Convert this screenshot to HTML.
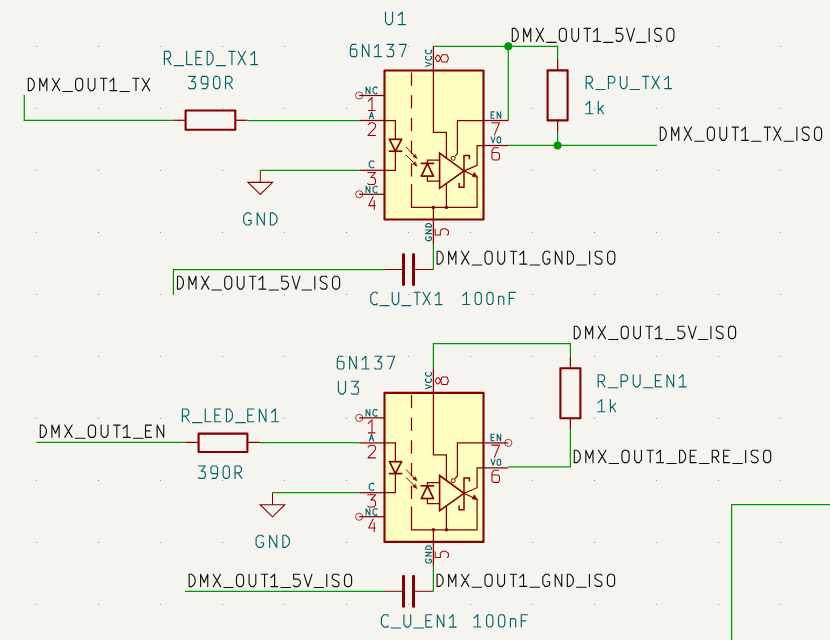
<!DOCTYPE html>
<html><head><meta charset="utf-8"><style>
html,body{margin:0;padding:0;background:#F5F4EF;overflow:hidden;}
svg{display:block;}
</style></head><body>
<svg width="830" height="640" viewBox="0 0 830 640">
<rect x="0" y="0" width="830" height="640" fill="#F5F4EF"/>
<rect x="36" y="46" width="1" height="1" fill="#999999"/><rect x="36" y="108" width="1" height="1" fill="#999999"/><rect x="36" y="170" width="1" height="1" fill="#999999"/><rect x="36" y="232" width="1" height="1" fill="#999999"/><rect x="36" y="294" width="1" height="1" fill="#999999"/><rect x="36" y="356" width="1" height="1" fill="#999999"/><rect x="36" y="418" width="1" height="1" fill="#999999"/><rect x="36" y="480" width="1" height="1" fill="#999999"/><rect x="36" y="542" width="1" height="1" fill="#999999"/><rect x="36" y="604" width="1" height="1" fill="#999999"/><rect x="98" y="46" width="1" height="1" fill="#999999"/><rect x="98" y="108" width="1" height="1" fill="#999999"/><rect x="98" y="170" width="1" height="1" fill="#999999"/><rect x="98" y="232" width="1" height="1" fill="#999999"/><rect x="98" y="294" width="1" height="1" fill="#999999"/><rect x="98" y="356" width="1" height="1" fill="#999999"/><rect x="98" y="418" width="1" height="1" fill="#999999"/><rect x="98" y="480" width="1" height="1" fill="#999999"/><rect x="98" y="542" width="1" height="1" fill="#999999"/><rect x="98" y="604" width="1" height="1" fill="#999999"/><rect x="160" y="46" width="1" height="1" fill="#999999"/><rect x="160" y="108" width="1" height="1" fill="#999999"/><rect x="160" y="170" width="1" height="1" fill="#999999"/><rect x="160" y="232" width="1" height="1" fill="#999999"/><rect x="160" y="294" width="1" height="1" fill="#999999"/><rect x="160" y="356" width="1" height="1" fill="#999999"/><rect x="160" y="418" width="1" height="1" fill="#999999"/><rect x="160" y="480" width="1" height="1" fill="#999999"/><rect x="160" y="542" width="1" height="1" fill="#999999"/><rect x="160" y="604" width="1" height="1" fill="#999999"/><rect x="222" y="46" width="1" height="1" fill="#999999"/><rect x="222" y="108" width="1" height="1" fill="#999999"/><rect x="222" y="170" width="1" height="1" fill="#999999"/><rect x="222" y="232" width="1" height="1" fill="#999999"/><rect x="222" y="294" width="1" height="1" fill="#999999"/><rect x="222" y="356" width="1" height="1" fill="#999999"/><rect x="222" y="418" width="1" height="1" fill="#999999"/><rect x="222" y="480" width="1" height="1" fill="#999999"/><rect x="222" y="542" width="1" height="1" fill="#999999"/><rect x="222" y="604" width="1" height="1" fill="#999999"/><rect x="284" y="46" width="1" height="1" fill="#999999"/><rect x="284" y="108" width="1" height="1" fill="#999999"/><rect x="284" y="170" width="1" height="1" fill="#999999"/><rect x="284" y="232" width="1" height="1" fill="#999999"/><rect x="284" y="294" width="1" height="1" fill="#999999"/><rect x="284" y="356" width="1" height="1" fill="#999999"/><rect x="284" y="418" width="1" height="1" fill="#999999"/><rect x="284" y="480" width="1" height="1" fill="#999999"/><rect x="284" y="542" width="1" height="1" fill="#999999"/><rect x="284" y="604" width="1" height="1" fill="#999999"/><rect x="346" y="46" width="1" height="1" fill="#999999"/><rect x="346" y="108" width="1" height="1" fill="#999999"/><rect x="346" y="170" width="1" height="1" fill="#999999"/><rect x="346" y="232" width="1" height="1" fill="#999999"/><rect x="346" y="294" width="1" height="1" fill="#999999"/><rect x="346" y="356" width="1" height="1" fill="#999999"/><rect x="346" y="418" width="1" height="1" fill="#999999"/><rect x="346" y="480" width="1" height="1" fill="#999999"/><rect x="346" y="542" width="1" height="1" fill="#999999"/><rect x="346" y="604" width="1" height="1" fill="#999999"/><rect x="408" y="46" width="1" height="1" fill="#999999"/><rect x="408" y="108" width="1" height="1" fill="#999999"/><rect x="408" y="170" width="1" height="1" fill="#999999"/><rect x="408" y="232" width="1" height="1" fill="#999999"/><rect x="408" y="294" width="1" height="1" fill="#999999"/><rect x="408" y="356" width="1" height="1" fill="#999999"/><rect x="408" y="418" width="1" height="1" fill="#999999"/><rect x="408" y="480" width="1" height="1" fill="#999999"/><rect x="408" y="542" width="1" height="1" fill="#999999"/><rect x="408" y="604" width="1" height="1" fill="#999999"/><rect x="470" y="46" width="1" height="1" fill="#999999"/><rect x="470" y="108" width="1" height="1" fill="#999999"/><rect x="470" y="170" width="1" height="1" fill="#999999"/><rect x="470" y="232" width="1" height="1" fill="#999999"/><rect x="470" y="294" width="1" height="1" fill="#999999"/><rect x="470" y="356" width="1" height="1" fill="#999999"/><rect x="470" y="418" width="1" height="1" fill="#999999"/><rect x="470" y="480" width="1" height="1" fill="#999999"/><rect x="470" y="542" width="1" height="1" fill="#999999"/><rect x="470" y="604" width="1" height="1" fill="#999999"/><rect x="532" y="46" width="1" height="1" fill="#999999"/><rect x="532" y="108" width="1" height="1" fill="#999999"/><rect x="532" y="170" width="1" height="1" fill="#999999"/><rect x="532" y="232" width="1" height="1" fill="#999999"/><rect x="532" y="294" width="1" height="1" fill="#999999"/><rect x="532" y="356" width="1" height="1" fill="#999999"/><rect x="532" y="418" width="1" height="1" fill="#999999"/><rect x="532" y="480" width="1" height="1" fill="#999999"/><rect x="532" y="542" width="1" height="1" fill="#999999"/><rect x="532" y="604" width="1" height="1" fill="#999999"/><rect x="594" y="46" width="1" height="1" fill="#999999"/><rect x="594" y="108" width="1" height="1" fill="#999999"/><rect x="594" y="170" width="1" height="1" fill="#999999"/><rect x="594" y="232" width="1" height="1" fill="#999999"/><rect x="594" y="294" width="1" height="1" fill="#999999"/><rect x="594" y="356" width="1" height="1" fill="#999999"/><rect x="594" y="418" width="1" height="1" fill="#999999"/><rect x="594" y="480" width="1" height="1" fill="#999999"/><rect x="594" y="542" width="1" height="1" fill="#999999"/><rect x="594" y="604" width="1" height="1" fill="#999999"/><rect x="656" y="46" width="1" height="1" fill="#999999"/><rect x="656" y="108" width="1" height="1" fill="#999999"/><rect x="656" y="170" width="1" height="1" fill="#999999"/><rect x="656" y="232" width="1" height="1" fill="#999999"/><rect x="656" y="294" width="1" height="1" fill="#999999"/><rect x="656" y="356" width="1" height="1" fill="#999999"/><rect x="656" y="418" width="1" height="1" fill="#999999"/><rect x="656" y="480" width="1" height="1" fill="#999999"/><rect x="656" y="542" width="1" height="1" fill="#999999"/><rect x="656" y="604" width="1" height="1" fill="#999999"/><rect x="718" y="46" width="1" height="1" fill="#999999"/><rect x="718" y="108" width="1" height="1" fill="#999999"/><rect x="718" y="170" width="1" height="1" fill="#999999"/><rect x="718" y="232" width="1" height="1" fill="#999999"/><rect x="718" y="294" width="1" height="1" fill="#999999"/><rect x="718" y="356" width="1" height="1" fill="#999999"/><rect x="718" y="418" width="1" height="1" fill="#999999"/><rect x="718" y="480" width="1" height="1" fill="#999999"/><rect x="718" y="542" width="1" height="1" fill="#999999"/><rect x="718" y="604" width="1" height="1" fill="#999999"/><rect x="780" y="46" width="1" height="1" fill="#999999"/><rect x="780" y="108" width="1" height="1" fill="#999999"/><rect x="780" y="170" width="1" height="1" fill="#999999"/><rect x="780" y="232" width="1" height="1" fill="#999999"/><rect x="780" y="294" width="1" height="1" fill="#999999"/><rect x="780" y="356" width="1" height="1" fill="#999999"/><rect x="780" y="418" width="1" height="1" fill="#999999"/><rect x="780" y="480" width="1" height="1" fill="#999999"/><rect x="780" y="542" width="1" height="1" fill="#999999"/><rect x="780" y="604" width="1" height="1" fill="#999999"/>
<path d="M24.3 95 L24.3 120.3 L173.4 120.3" fill="none" stroke="#009600" stroke-width="1.25" stroke-linecap="butt" stroke-linejoin="miter"/>
<path d="M247.5 120.5 L359.2 120.5" fill="none" stroke="#009600" stroke-width="1.25" stroke-linecap="butt" stroke-linejoin="miter"/>
<path d="M260.3 170.4 L359.2 170.4" fill="none" stroke="#009600" stroke-width="1.25" stroke-linecap="butt" stroke-linejoin="miter"/>
<path d="M433.4 46.3 L557.6 46.3 L557.6 59" fill="none" stroke="#009600" stroke-width="1.25" stroke-linecap="butt" stroke-linejoin="miter"/>
<path d="M508.3 46.3 L508.3 120.5" fill="none" stroke="#009600" stroke-width="1.25" stroke-linecap="butt" stroke-linejoin="miter"/>
<path d="M557.6 131.8 L557.6 145.4" fill="none" stroke="#009600" stroke-width="1.25" stroke-linecap="butt" stroke-linejoin="miter"/>
<path d="M508.3 145.4 L657 145.4" fill="none" stroke="#009600" stroke-width="1.25" stroke-linecap="butt" stroke-linejoin="miter"/>
<path d="M173.4 294.7 L173.4 269.5 L385 269.5" fill="none" stroke="#009600" stroke-width="1.25" stroke-linecap="butt" stroke-linejoin="miter"/>
<path d="M433.4 269.5 L433.4 244" fill="none" stroke="#009600" stroke-width="1.25" stroke-linecap="butt" stroke-linejoin="miter"/>
<path d="M36.3 442.3 L186 442.3" fill="none" stroke="#009600" stroke-width="1.25" stroke-linecap="butt" stroke-linejoin="miter"/>
<path d="M260 442.5 L359.2 442.5" fill="none" stroke="#009600" stroke-width="1.25" stroke-linecap="butt" stroke-linejoin="miter"/>
<path d="M272.5 492.7 L359.2 492.7" fill="none" stroke="#009600" stroke-width="1.25" stroke-linecap="butt" stroke-linejoin="miter"/>
<path d="M433.4 368.7 L433.4 343.5 L570.4 343.5 L570.4 356.9" fill="none" stroke="#009600" stroke-width="1.25" stroke-linecap="butt" stroke-linejoin="miter"/>
<path d="M570.4 429.8 L570.4 466.9 L508.3 466.9" fill="none" stroke="#009600" stroke-width="1.25" stroke-linecap="butt" stroke-linejoin="miter"/>
<path d="M185 591.3 L385 591.3" fill="none" stroke="#009600" stroke-width="1.25" stroke-linecap="butt" stroke-linejoin="miter"/>
<path d="M433.4 591.3 L433.4 566.4" fill="none" stroke="#009600" stroke-width="1.25" stroke-linecap="butt" stroke-linejoin="miter"/>
<path d="M731.6 640 L731.6 504.5 L830 504.5" fill="none" stroke="#009600" stroke-width="1.25" stroke-linecap="butt" stroke-linejoin="miter"/>
<path d="M173.45 120.3 L185.6 120.3" fill="none" stroke="#840000" stroke-width="1.25" stroke-linecap="butt" stroke-linejoin="round"/>
<path d="M235.3 120.3 L247.45 120.3" fill="none" stroke="#840000" stroke-width="1.25" stroke-linecap="butt" stroke-linejoin="round"/>
<rect x="185.6" y="110.5" width="49.7" height="19.3" fill="none" stroke="#840000" stroke-width="2.1" stroke-linejoin="round"/>
<path d="M557.6 59 L557.6 70.4" fill="none" stroke="#840000" stroke-width="1.25" stroke-linecap="butt" stroke-linejoin="round"/>
<path d="M557.6 120.4 L557.6 131.8" fill="none" stroke="#840000" stroke-width="1.25" stroke-linecap="butt" stroke-linejoin="round"/>
<rect x="547.6" y="70.4" width="20" height="50" fill="none" stroke="#840000" stroke-width="2.1" stroke-linejoin="round"/>
<path d="M260.3 170.4 L260.3 182.4" fill="none" stroke="#840000" stroke-width="1" stroke-linecap="butt" stroke-linejoin="round"/>
<path d="M248 182.4 L272.6 182.4 L260.3 194.5Z" fill="none" stroke="#840000" stroke-width="1.1" stroke-linecap="round" stroke-linejoin="miter"/>
<path d="M385 269.5 L403 269.5" fill="none" stroke="#840000" stroke-width="1" stroke-linecap="butt" stroke-linejoin="round"/>
<path d="M414 269.5 L433.4 269.5" fill="none" stroke="#840000" stroke-width="1" stroke-linecap="butt" stroke-linejoin="round"/>
<path d="M403.5 254.5 L403.5 284.5" fill="none" stroke="#840000" stroke-width="3" stroke-linecap="round" stroke-linejoin="round"/>
<path d="M413.5 254.5 L413.5 284.5" fill="none" stroke="#840000" stroke-width="3" stroke-linecap="round" stroke-linejoin="round"/>
<rect x="384.5" y="70.5" width="99" height="149" fill="#FFFFC2" stroke="#840000" stroke-width="2.1" stroke-linejoin="round"/>
<path d="M359.2 95.5 L384.7 95.5" fill="none" stroke="#840000" stroke-width="1.25" stroke-linecap="butt" stroke-linejoin="round"/>
<path d="M359.2 120.5 L384.7 120.5" fill="none" stroke="#840000" stroke-width="1.25" stroke-linecap="butt" stroke-linejoin="round"/>
<path d="M359.2 170.3 L384.7 170.3" fill="none" stroke="#840000" stroke-width="1.25" stroke-linecap="butt" stroke-linejoin="round"/>
<path d="M359.2 194.3 L384.7 194.3" fill="none" stroke="#840000" stroke-width="1.25" stroke-linecap="butt" stroke-linejoin="round"/>
<circle cx="359.2" cy="95.5" r="3.6" fill="none" stroke="#840000" stroke-width="1" opacity="0.75"/>
<circle cx="359.2" cy="194.3" r="3.6" fill="none" stroke="#840000" stroke-width="1" opacity="0.75"/>
<path d="M483.5 120.5 L508.3 120.5" fill="none" stroke="#840000" stroke-width="1.25" stroke-linecap="butt" stroke-linejoin="round"/>
<path d="M483.5 145.5 L508.3 145.5" fill="none" stroke="#840000" stroke-width="1.25" stroke-linecap="butt" stroke-linejoin="round"/>
<path d="M433.4 46.3 L433.4 70.6" fill="none" stroke="#840000" stroke-width="1.25" stroke-linecap="butt" stroke-linejoin="round"/>
<path d="M433.4 219.4 L433.4 244" fill="none" stroke="#840000" stroke-width="1.25" stroke-linecap="butt" stroke-linejoin="round"/>
<path d="M384.7 120.5 L395.4 120.5 L395.4 139.3" fill="none" stroke="#840000" stroke-width="1.25" stroke-linecap="butt" stroke-linejoin="miter"/>
<path d="M395.4 151.2 L395.4 170.3 L384.7 170.3" fill="none" stroke="#840000" stroke-width="1.25" stroke-linecap="butt" stroke-linejoin="miter"/>
<path d="M388.7 139.3 L402.3 139.3" fill="none" stroke="#840000" stroke-width="1.7" stroke-linecap="butt" stroke-linejoin="round"/>
<path d="M388.7 151.2 L402.3 151.2" fill="none" stroke="#840000" stroke-width="1.7" stroke-linecap="butt" stroke-linejoin="round"/>
<path d="M389.5 139.3 L395.4 151.2 L401.5 139.3" fill="none" stroke="#840000" stroke-width="1.7" stroke-linecap="butt" stroke-linejoin="miter"/>
<path d="M406 147 L415.3 156.8" fill="none" stroke="#840000" stroke-width="1" stroke-linecap="butt" stroke-linejoin="round"/>
<path d="M416.8 158.4 L412.89 156.6 L415.21 154.4Z" fill="#840000" stroke="#840000" stroke-width="0.6" stroke-linecap="round" stroke-linejoin="round"/>
<path d="M406 155 L415.3 164.4" fill="none" stroke="#840000" stroke-width="1" stroke-linecap="butt" stroke-linejoin="round"/>
<path d="M416.8 166 L412.86 164.27 L415.14 162.02Z" fill="#840000" stroke="#840000" stroke-width="0.6" stroke-linecap="round" stroke-linejoin="round"/>
<path d="M411.5 72.5 L411.5 85.8" fill="none" stroke="#840000" stroke-width="1.25" stroke-linecap="butt" stroke-linejoin="round"/>
<path d="M411.5 95.2 L411.5 108.5" fill="none" stroke="#840000" stroke-width="1.25" stroke-linecap="butt" stroke-linejoin="round"/>
<path d="M411.5 117.9 L411.5 131.2" fill="none" stroke="#840000" stroke-width="1.25" stroke-linecap="butt" stroke-linejoin="round"/>
<path d="M411.5 140.6 L411.5 153.9" fill="none" stroke="#840000" stroke-width="1.25" stroke-linecap="butt" stroke-linejoin="round"/>
<path d="M411.5 163.3 L411.5 176.6" fill="none" stroke="#840000" stroke-width="1.25" stroke-linecap="butt" stroke-linejoin="round"/>
<path d="M411.5 184.1 L411.5 207.4 L477.3 207.4" fill="none" stroke="#840000" stroke-width="1.25" stroke-linecap="butt" stroke-linejoin="miter"/>
<circle cx="433.4" cy="207.4" r="1.7" fill="#840000"/>
<circle cx="446.5" cy="207.4" r="1.7" fill="#840000"/>
<path d="M420.6 163.4 L434.2 163.4" fill="none" stroke="#840000" stroke-width="1.7" stroke-linecap="butt" stroke-linejoin="round"/>
<path d="M420.6 176.1 L434.2 176.1" fill="none" stroke="#840000" stroke-width="1.7" stroke-linecap="butt" stroke-linejoin="round"/>
<path d="M421.4 176.1 L427.4 163.4 L433.4 176.1" fill="none" stroke="#840000" stroke-width="1.7" stroke-linecap="butt" stroke-linejoin="miter"/>
<path d="M427.4 163.4 L427.4 160.1 L439.6 160.1" fill="none" stroke="#840000" stroke-width="1.25" stroke-linecap="butt" stroke-linejoin="miter"/>
<path d="M427.4 176.1 L427.4 181.2 L439.6 181.2" fill="none" stroke="#840000" stroke-width="1.25" stroke-linecap="butt" stroke-linejoin="miter"/>
<path d="M433.4 70.6 L433.4 132.4 L446.4 132.4 L446.4 158.2" fill="none" stroke="#840000" stroke-width="1.25" stroke-linecap="butt" stroke-linejoin="miter"/>
<path d="M446.4 183.5 L446.4 207.4" fill="none" stroke="#840000" stroke-width="1.25" stroke-linecap="butt" stroke-linejoin="round"/>
<path d="M433.4 207.4 L433.4 219.5" fill="none" stroke="#840000" stroke-width="1.25" stroke-linecap="butt" stroke-linejoin="round"/>
<path d="M439.6 153.1 L464 170.9 L439.6 188.3Z" fill="none" stroke="#840000" stroke-width="1.6" stroke-linecap="round" stroke-linejoin="miter"/>
<circle cx="453.2" cy="158.3" r="2" fill="none" stroke="#840000" stroke-width="1"/>
<path d="M483.5 120.5 L457.4 120.5 L457.4 153.6 L455 156.4" fill="none" stroke="#840000" stroke-width="1.25" stroke-linecap="butt" stroke-linejoin="miter"/>
<path d="M459.1 183.1 L459.1 187.3 L464 187.3 L464 155.5 L469.4 155.5 L469.4 159.2" fill="none" stroke="#840000" stroke-width="1.5" stroke-linecap="butt" stroke-linejoin="miter"/>
<path d="M464 170.9 L477.1 165.3 L477.1 145.5 L483.5 145.5" fill="none" stroke="#840000" stroke-width="1.25" stroke-linecap="butt" stroke-linejoin="miter"/>
<path d="M464 170.9 L474.5 175.8" fill="none" stroke="#840000" stroke-width="1.25" stroke-linecap="butt" stroke-linejoin="round"/>
<path d="M477.1 177 L477.1 207.4" fill="none" stroke="#840000" stroke-width="1.25" stroke-linecap="butt" stroke-linejoin="round"/>
<path d="M477.6 177.3 L472.3 176.6 L474.2 172.6Z" fill="#840000" stroke="#840000" stroke-width="0.6" stroke-linecap="round" stroke-linejoin="round"/>
<path transform="translate(366.1 87.1)" d="M0 6.6 0 0 3.75 6.6 3.75 0 M10.7 0.79 10.7 0 8.51 0 6.95 1.57 6.95 5.03 8.51 6.6 10.7 6.6 10.7 5.81" fill="none" stroke="#006464" stroke-width="1.1" stroke-linecap="round" stroke-linejoin="round"/>
<path transform="translate(369.3 112)" d="M0 6.6 2.2 0 4.4 6.6 M0.74 4.4 3.66 4.4" fill="none" stroke="#006464" stroke-width="1.1" stroke-linecap="round" stroke-linejoin="round"/>
<path transform="translate(369.3 161)" d="M4.4 0.81 4.4 0 1.83 0 0 1.62 0 5.18 1.83 6.8 4.4 6.8 4.4 5.99" fill="none" stroke="#006464" stroke-width="1.1" stroke-linecap="round" stroke-linejoin="round"/>
<path transform="translate(366.1 186.3)" d="M0 6.4 0 0 3.75 6.4 3.75 0 M10.7 0.76 10.7 0 8.51 0 6.95 1.52 6.95 4.88 8.51 6.4 10.7 6.4 10.7 5.64" fill="none" stroke="#006464" stroke-width="1.1" stroke-linecap="round" stroke-linejoin="round"/>
<path transform="translate(491.1 111.9)" d="M3.18 0 0 0 0 6.4 3.18 6.4 M0 3.05 2.31 3.05 M6.13 6.4 6.13 0 9.6 6.4 9.6 0" fill="none" stroke="#006464" stroke-width="1.1" stroke-linecap="round" stroke-linejoin="round"/>
<path transform="translate(491.1 136.9)" d="M0 0 1.94 6 3.88 0 M7.14 0 8.53 0 9.39 0.74 9.6 1.57 9.6 4.43 9.39 5.23 8.53 6 7.14 6 6.29 5.23 6.07 4.43 6.07 1.57 6.29 0.74 7.14 0" fill="none" stroke="#006464" stroke-width="1.1" stroke-linecap="round" stroke-linejoin="round"/>
<path transform="translate(425.55 66.4) rotate(-90)" d="M0 0 2.05 5.9 4.1 0 M9.82 0.7 9.82 0 7.84 0 6.42 1.4 6.42 4.5 7.84 5.9 9.82 5.9 9.82 5.2 M16.1 0.7 16.1 0 14.12 0 12.71 1.4 12.71 4.5 14.12 5.9 16.1 5.9 16.1 5.2" fill="none" stroke="#006464" stroke-width="1.1" stroke-linecap="round" stroke-linejoin="round"/>
<path transform="translate(425.65 240.6) rotate(-90)" d="M3.76 0.69 3.06 0 1.38 0 0 1.38 0 4.42 1.22 5.8 2.75 5.8 3.82 4.97 3.82 3.59 2.45 3.59 M6.95 5.8 6.95 0 10.61 5.8 10.61 0 M13.74 0 15.2 0 16.37 0.88 16.98 1.74 17.1 2.35 17.1 3.45 16.98 4.06 16.37 4.92 15.2 5.8 13.74 5.8 13.74 0" fill="none" stroke="#006464" stroke-width="1.1" stroke-linecap="round" stroke-linejoin="round"/>
<path transform="translate(368.35 97.5)" d="M0 3.58 3.66 0 3.66 12.95 M0 12.95 6.7 12.95" fill="none" stroke="#A90000" stroke-width="1.05" stroke-linecap="round" stroke-linejoin="round"/>
<path transform="translate(367.95 122.8)" d="M0.19 1.93 1.46 0.48 3.04 0 4.94 0 6.65 0.6 7.6 2.11 7.6 3.92 6.84 5.42 0 12.65 7.6 12.65" fill="none" stroke="#A90000" stroke-width="1.05" stroke-linecap="round" stroke-linejoin="round"/>
<path transform="translate(367.75 172.4)" d="M0 0 7.8 0 3.12 5.09 5.87 5.09 7.8 6.94 7.8 10.18 6.43 12.15 0.94 12.15 0 11.28" fill="none" stroke="#A90000" stroke-width="1.05" stroke-linecap="round" stroke-linejoin="round"/>
<path transform="translate(368.75 196.5)" d="M4.43 0 0 9.11 6.4 9.11 M5.49 3.95 5.49 12.75" fill="none" stroke="#A90000" stroke-width="1.05" stroke-linecap="round" stroke-linejoin="round"/>
<path transform="translate(491.75 122.7)" d="M0 0 7.7 0 2.67 12.15" fill="none" stroke="#A90000" stroke-width="1.05" stroke-linecap="round" stroke-linejoin="round"/>
<path transform="translate(491.95 147.8)" d="M6.44 0 2 0 0 2.78 0 10.59 1.5 12.15 6.25 12.15 7.5 10.59 7.5 6.25 6.06 4.74 0 4.74" fill="none" stroke="#A90000" stroke-width="1.05" stroke-linecap="round" stroke-linejoin="round"/>
<path transform="translate(435.2 62.05) rotate(-90)" d="M3.7 5.36 7.4 6.94 7.4 11.8 3.7 13.25 0 11.8 0 6.94 3.7 5.36 6.78 3.53 6.78 1.89 3.7 0 0.62 1.89 0.62 3.53 3.7 5.36" fill="none" stroke="#A90000" stroke-width="1.05" stroke-linecap="round" stroke-linejoin="round"/>
<path transform="translate(435.2 235.05) rotate(-90)" d="M5.7 0 0 0 0 5.17 4.33 5.17 6.3 7.38 6.3 10.28 4.13 13.25 0.86 13.25 0 11.99" fill="none" stroke="#A90000" stroke-width="1.05" stroke-linecap="round" stroke-linejoin="round"/>
<circle cx="508.3" cy="46.3" r="4" fill="#009600"/>
<circle cx="557.6" cy="145.4" r="4" fill="#009600"/>
<path d="M186 442.4 L198.6 442.4" fill="none" stroke="#840000" stroke-width="1.25" stroke-linecap="butt" stroke-linejoin="round"/>
<path d="M247.4 442.4 L260 442.4" fill="none" stroke="#840000" stroke-width="1.25" stroke-linecap="butt" stroke-linejoin="round"/>
<rect x="198.6" y="433.6" width="48.8" height="18.4" fill="none" stroke="#840000" stroke-width="2.1" stroke-linejoin="round"/>
<path d="M570.4 356.9 L570.4 368.3" fill="none" stroke="#840000" stroke-width="1.25" stroke-linecap="butt" stroke-linejoin="round"/>
<path d="M570.4 418.3 L570.4 429.7" fill="none" stroke="#840000" stroke-width="1.25" stroke-linecap="butt" stroke-linejoin="round"/>
<rect x="560.4" y="368.3" width="20" height="50" fill="none" stroke="#840000" stroke-width="2.1" stroke-linejoin="round"/>
<path d="M272.5 492.7 L272.5 504.7" fill="none" stroke="#840000" stroke-width="1" stroke-linecap="butt" stroke-linejoin="round"/>
<path d="M260.2 504.7 L284.8 504.7 L272.5 516.8Z" fill="none" stroke="#840000" stroke-width="1.1" stroke-linecap="round" stroke-linejoin="miter"/>
<path d="M385 591.3 L403 591.3" fill="none" stroke="#840000" stroke-width="1" stroke-linecap="butt" stroke-linejoin="round"/>
<path d="M414 591.3 L433.4 591.3" fill="none" stroke="#840000" stroke-width="1" stroke-linecap="butt" stroke-linejoin="round"/>
<path d="M403.5 576.3 L403.5 606.3" fill="none" stroke="#840000" stroke-width="3" stroke-linecap="round" stroke-linejoin="round"/>
<path d="M413.5 576.3 L413.5 606.3" fill="none" stroke="#840000" stroke-width="3" stroke-linecap="round" stroke-linejoin="round"/>
<rect x="384.5" y="392.9" width="99" height="149" fill="#FFFFC2" stroke="#840000" stroke-width="2.1" stroke-linejoin="round"/>
<path d="M359.2 417.9 L384.7 417.9" fill="none" stroke="#840000" stroke-width="1.25" stroke-linecap="butt" stroke-linejoin="round"/>
<path d="M359.2 442.9 L384.7 442.9" fill="none" stroke="#840000" stroke-width="1.25" stroke-linecap="butt" stroke-linejoin="round"/>
<path d="M359.2 492.7 L384.7 492.7" fill="none" stroke="#840000" stroke-width="1.25" stroke-linecap="butt" stroke-linejoin="round"/>
<path d="M359.2 516.7 L384.7 516.7" fill="none" stroke="#840000" stroke-width="1.25" stroke-linecap="butt" stroke-linejoin="round"/>
<circle cx="359.2" cy="417.9" r="3.6" fill="none" stroke="#840000" stroke-width="1" opacity="0.75"/>
<circle cx="359.2" cy="516.7" r="3.6" fill="none" stroke="#840000" stroke-width="1" opacity="0.75"/>
<path d="M483.5 442.9 L508.3 442.9" fill="none" stroke="#840000" stroke-width="1.25" stroke-linecap="butt" stroke-linejoin="round"/>
<path d="M483.5 467.9 L508.3 467.9" fill="none" stroke="#840000" stroke-width="1.25" stroke-linecap="butt" stroke-linejoin="round"/>
<circle cx="508.3" cy="442.9" r="3.6" fill="none" stroke="#840000" stroke-width="1" opacity="0.75"/>
<path d="M433.4 368.7 L433.4 393" fill="none" stroke="#840000" stroke-width="1.25" stroke-linecap="butt" stroke-linejoin="round"/>
<path d="M433.4 541.8 L433.4 566.4" fill="none" stroke="#840000" stroke-width="1.25" stroke-linecap="butt" stroke-linejoin="round"/>
<path d="M384.7 442.9 L395.4 442.9 L395.4 461.7" fill="none" stroke="#840000" stroke-width="1.25" stroke-linecap="butt" stroke-linejoin="miter"/>
<path d="M395.4 473.6 L395.4 492.7 L384.7 492.7" fill="none" stroke="#840000" stroke-width="1.25" stroke-linecap="butt" stroke-linejoin="miter"/>
<path d="M388.7 461.7 L402.3 461.7" fill="none" stroke="#840000" stroke-width="1.7" stroke-linecap="butt" stroke-linejoin="round"/>
<path d="M388.7 473.6 L402.3 473.6" fill="none" stroke="#840000" stroke-width="1.7" stroke-linecap="butt" stroke-linejoin="round"/>
<path d="M389.5 461.7 L395.4 473.6 L401.5 461.7" fill="none" stroke="#840000" stroke-width="1.7" stroke-linecap="butt" stroke-linejoin="miter"/>
<path d="M406 469.4 L415.3 479.2" fill="none" stroke="#840000" stroke-width="1" stroke-linecap="butt" stroke-linejoin="round"/>
<path d="M416.8 480.8 L412.89 479 L415.21 476.8Z" fill="#840000" stroke="#840000" stroke-width="0.6" stroke-linecap="round" stroke-linejoin="round"/>
<path d="M406 477.4 L415.3 486.8" fill="none" stroke="#840000" stroke-width="1" stroke-linecap="butt" stroke-linejoin="round"/>
<path d="M416.8 488.4 L412.86 486.67 L415.14 484.42Z" fill="#840000" stroke="#840000" stroke-width="0.6" stroke-linecap="round" stroke-linejoin="round"/>
<path d="M411.5 394.9 L411.5 408.2" fill="none" stroke="#840000" stroke-width="1.25" stroke-linecap="butt" stroke-linejoin="round"/>
<path d="M411.5 417.6 L411.5 430.9" fill="none" stroke="#840000" stroke-width="1.25" stroke-linecap="butt" stroke-linejoin="round"/>
<path d="M411.5 440.3 L411.5 453.6" fill="none" stroke="#840000" stroke-width="1.25" stroke-linecap="butt" stroke-linejoin="round"/>
<path d="M411.5 463 L411.5 476.3" fill="none" stroke="#840000" stroke-width="1.25" stroke-linecap="butt" stroke-linejoin="round"/>
<path d="M411.5 485.7 L411.5 499" fill="none" stroke="#840000" stroke-width="1.25" stroke-linecap="butt" stroke-linejoin="round"/>
<path d="M411.5 506.5 L411.5 529.8 L477.3 529.8" fill="none" stroke="#840000" stroke-width="1.25" stroke-linecap="butt" stroke-linejoin="miter"/>
<circle cx="433.4" cy="529.8" r="1.7" fill="#840000"/>
<circle cx="446.5" cy="529.8" r="1.7" fill="#840000"/>
<path d="M420.6 485.8 L434.2 485.8" fill="none" stroke="#840000" stroke-width="1.7" stroke-linecap="butt" stroke-linejoin="round"/>
<path d="M420.6 498.5 L434.2 498.5" fill="none" stroke="#840000" stroke-width="1.7" stroke-linecap="butt" stroke-linejoin="round"/>
<path d="M421.4 498.5 L427.4 485.8 L433.4 498.5" fill="none" stroke="#840000" stroke-width="1.7" stroke-linecap="butt" stroke-linejoin="miter"/>
<path d="M427.4 485.8 L427.4 482.5 L439.6 482.5" fill="none" stroke="#840000" stroke-width="1.25" stroke-linecap="butt" stroke-linejoin="miter"/>
<path d="M427.4 498.5 L427.4 503.6 L439.6 503.6" fill="none" stroke="#840000" stroke-width="1.25" stroke-linecap="butt" stroke-linejoin="miter"/>
<path d="M433.4 393 L433.4 454.8 L446.4 454.8 L446.4 480.6" fill="none" stroke="#840000" stroke-width="1.25" stroke-linecap="butt" stroke-linejoin="miter"/>
<path d="M446.4 505.9 L446.4 529.8" fill="none" stroke="#840000" stroke-width="1.25" stroke-linecap="butt" stroke-linejoin="round"/>
<path d="M433.4 529.8 L433.4 541.9" fill="none" stroke="#840000" stroke-width="1.25" stroke-linecap="butt" stroke-linejoin="round"/>
<path d="M439.6 475.5 L464 493.3 L439.6 510.7Z" fill="none" stroke="#840000" stroke-width="1.6" stroke-linecap="round" stroke-linejoin="miter"/>
<circle cx="453.2" cy="480.7" r="2" fill="none" stroke="#840000" stroke-width="1"/>
<path d="M483.5 442.9 L457.4 442.9 L457.4 476 L455 478.8" fill="none" stroke="#840000" stroke-width="1.25" stroke-linecap="butt" stroke-linejoin="miter"/>
<path d="M459.1 505.5 L459.1 509.7 L464 509.7 L464 477.9 L469.4 477.9 L469.4 481.6" fill="none" stroke="#840000" stroke-width="1.5" stroke-linecap="butt" stroke-linejoin="miter"/>
<path d="M464 493.3 L477.1 487.7 L477.1 467.9 L483.5 467.9" fill="none" stroke="#840000" stroke-width="1.25" stroke-linecap="butt" stroke-linejoin="miter"/>
<path d="M464 493.3 L474.5 498.2" fill="none" stroke="#840000" stroke-width="1.25" stroke-linecap="butt" stroke-linejoin="round"/>
<path d="M477.1 499.4 L477.1 529.8" fill="none" stroke="#840000" stroke-width="1.25" stroke-linecap="butt" stroke-linejoin="round"/>
<path d="M477.6 499.7 L472.3 499 L474.2 495Z" fill="#840000" stroke="#840000" stroke-width="0.6" stroke-linecap="round" stroke-linejoin="round"/>
<path transform="translate(366.1 409.5)" d="M0 6.6 0 0 3.75 6.6 3.75 0 M10.7 0.79 10.7 0 8.51 0 6.95 1.57 6.95 5.03 8.51 6.6 10.7 6.6 10.7 5.81" fill="none" stroke="#006464" stroke-width="1.1" stroke-linecap="round" stroke-linejoin="round"/>
<path transform="translate(369.3 434.4)" d="M0 6.6 2.2 0 4.4 6.6 M0.74 4.4 3.66 4.4" fill="none" stroke="#006464" stroke-width="1.1" stroke-linecap="round" stroke-linejoin="round"/>
<path transform="translate(369.3 483.4)" d="M4.4 0.81 4.4 0 1.83 0 0 1.62 0 5.18 1.83 6.8 4.4 6.8 4.4 5.99" fill="none" stroke="#006464" stroke-width="1.1" stroke-linecap="round" stroke-linejoin="round"/>
<path transform="translate(366.1 508.7)" d="M0 6.4 0 0 3.75 6.4 3.75 0 M10.7 0.76 10.7 0 8.51 0 6.95 1.52 6.95 4.88 8.51 6.4 10.7 6.4 10.7 5.64" fill="none" stroke="#006464" stroke-width="1.1" stroke-linecap="round" stroke-linejoin="round"/>
<path transform="translate(491.1 434.3)" d="M3.18 0 0 0 0 6.4 3.18 6.4 M0 3.05 2.31 3.05 M6.13 6.4 6.13 0 9.6 6.4 9.6 0" fill="none" stroke="#006464" stroke-width="1.1" stroke-linecap="round" stroke-linejoin="round"/>
<path transform="translate(491.1 459.3)" d="M0 0 1.94 6 3.88 0 M7.14 0 8.53 0 9.39 0.74 9.6 1.57 9.6 4.43 9.39 5.23 8.53 6 7.14 6 6.29 5.23 6.07 4.43 6.07 1.57 6.29 0.74 7.14 0" fill="none" stroke="#006464" stroke-width="1.1" stroke-linecap="round" stroke-linejoin="round"/>
<path transform="translate(425.55 388.8) rotate(-90)" d="M0 0 2.05 5.9 4.1 0 M9.82 0.7 9.82 0 7.84 0 6.42 1.4 6.42 4.5 7.84 5.9 9.82 5.9 9.82 5.2 M16.1 0.7 16.1 0 14.12 0 12.71 1.4 12.71 4.5 14.12 5.9 16.1 5.9 16.1 5.2" fill="none" stroke="#006464" stroke-width="1.1" stroke-linecap="round" stroke-linejoin="round"/>
<path transform="translate(425.65 563) rotate(-90)" d="M3.76 0.69 3.06 0 1.38 0 0 1.38 0 4.42 1.22 5.8 2.75 5.8 3.82 4.97 3.82 3.59 2.45 3.59 M6.95 5.8 6.95 0 10.61 5.8 10.61 0 M13.74 0 15.2 0 16.37 0.88 16.98 1.74 17.1 2.35 17.1 3.45 16.98 4.06 16.37 4.92 15.2 5.8 13.74 5.8 13.74 0" fill="none" stroke="#006464" stroke-width="1.1" stroke-linecap="round" stroke-linejoin="round"/>
<path transform="translate(368.35 419.9)" d="M0 3.58 3.66 0 3.66 12.95 M0 12.95 6.7 12.95" fill="none" stroke="#A90000" stroke-width="1.05" stroke-linecap="round" stroke-linejoin="round"/>
<path transform="translate(367.95 445.2)" d="M0.19 1.93 1.46 0.48 3.04 0 4.94 0 6.65 0.6 7.6 2.11 7.6 3.92 6.84 5.42 0 12.65 7.6 12.65" fill="none" stroke="#A90000" stroke-width="1.05" stroke-linecap="round" stroke-linejoin="round"/>
<path transform="translate(367.75 494.8)" d="M0 0 7.8 0 3.12 5.09 5.87 5.09 7.8 6.94 7.8 10.18 6.43 12.15 0.94 12.15 0 11.28" fill="none" stroke="#A90000" stroke-width="1.05" stroke-linecap="round" stroke-linejoin="round"/>
<path transform="translate(368.75 518.9)" d="M4.43 0 0 9.11 6.4 9.11 M5.49 3.95 5.49 12.75" fill="none" stroke="#A90000" stroke-width="1.05" stroke-linecap="round" stroke-linejoin="round"/>
<path transform="translate(491.75 445.1)" d="M0 0 7.7 0 2.67 12.15" fill="none" stroke="#A90000" stroke-width="1.05" stroke-linecap="round" stroke-linejoin="round"/>
<path transform="translate(491.95 470.2)" d="M6.44 0 2 0 0 2.78 0 10.59 1.5 12.15 6.25 12.15 7.5 10.59 7.5 6.25 6.06 4.74 0 4.74" fill="none" stroke="#A90000" stroke-width="1.05" stroke-linecap="round" stroke-linejoin="round"/>
<path transform="translate(435.2 384.45) rotate(-90)" d="M3.7 5.36 7.4 6.94 7.4 11.8 3.7 13.25 0 11.8 0 6.94 3.7 5.36 6.78 3.53 6.78 1.89 3.7 0 0.62 1.89 0.62 3.53 3.7 5.36" fill="none" stroke="#A90000" stroke-width="1.05" stroke-linecap="round" stroke-linejoin="round"/>
<path transform="translate(435.2 557.45) rotate(-90)" d="M5.7 0 0 0 0 5.17 4.33 5.17 6.3 7.38 6.3 10.28 4.13 13.25 0.86 13.25 0 11.99" fill="none" stroke="#A90000" stroke-width="1.05" stroke-linecap="round" stroke-linejoin="round"/>
<path transform="translate(28.3 78.24)" d="M0 0 2.59 0 4.63 1.88 5.71 3.71 5.92 5 5.92 7.36 5.71 8.65 4.63 10.48 2.59 12.36 0 12.36 0 0 M11.43 12.36 11.43 0 14.98 8.24 18.54 0 18.54 12.36 M24.04 0 31.37 12.36 M31.37 0 24.04 12.36 M34.6 13.24 44.05 13.24 M49.44 0 52.24 0 53.96 1.53 54.39 3.24 54.39 9.12 53.96 10.77 52.24 12.36 49.44 12.36 47.72 10.77 47.28 9.12 47.28 3.24 47.72 1.53 49.44 0 M59.9 0 59.9 9.59 62.05 12.36 64.48 12.36 66.63 9.59 66.63 0 M72.14 0 78.6 0 M75.37 0 75.37 12.36 M81.65 3.41 85.42 0 85.42 12.36 M81.65 12.36 88.54 12.36 M91.78 13.24 101.23 13.24 M104.46 0 110.92 0 M107.69 0 107.69 12.36 M113.98 0 121.3 12.36 M121.3 0 113.98 12.36" fill="none" stroke="#0F0F0F" stroke-width="1.15" stroke-linecap="round" stroke-linejoin="round"/>
<path transform="translate(512.3 28.3)" d="M0 0 2.57 0 4.61 2 5.68 3.93 5.89 5.3 5.89 7.8 5.68 9.17 4.61 11.1 2.57 13.1 0 13.1 0 0 M11.37 13.1 11.37 0 14.9 8.73 18.44 0 18.44 13.1 M23.92 0 31.2 13.1 M31.2 0 23.92 13.1 M34.42 14.04 43.82 14.04 M49.18 0 51.96 0 53.68 1.62 54.1 3.43 54.1 9.67 53.68 11.42 51.96 13.1 49.18 13.1 47.46 11.42 47.03 9.67 47.03 3.43 47.46 1.62 49.18 0 M59.58 0 59.58 10.17 61.72 13.1 64.13 13.1 66.28 10.17 66.28 0 M71.75 0 78.18 0 M74.97 0 74.97 13.1 M81.22 3.62 84.97 0 84.97 13.1 M81.22 13.1 88.07 13.1 M91.29 14.04 100.69 14.04 M109.96 0 103.91 0 103.91 5.12 108.51 5.12 110.6 7.3 110.6 10.17 108.3 13.1 104.82 13.1 103.91 11.85 M114.35 0 118.24 13.1 122.12 0 M124.26 14.04 133.67 14.04 M136.88 0 136.88 13.1 M149.05 1.12 148.14 0 143.86 0 142.36 1.75 142.36 4.12 143.64 5.61 147.77 7.74 149.05 9.23 149.05 11.23 147.77 13.1 143.86 13.1 142.36 11.6 M156.67 0 159.46 0 161.17 1.62 161.6 3.43 161.6 9.67 161.17 11.42 159.46 13.1 156.67 13.1 154.96 11.42 154.53 9.67 154.53 3.43 154.96 1.62 156.67 0" fill="none" stroke="#0F0F0F" stroke-width="1.15" stroke-linecap="round" stroke-linejoin="round"/>
<path transform="translate(660.3 127.06)" d="M0 0 2.57 0 4.61 2.02 5.68 3.97 5.9 5.36 5.9 7.88 5.68 9.27 4.61 11.22 2.57 13.24 0 13.24 0 0 M11.38 13.24 11.38 0 14.91 8.83 18.45 0 18.45 13.24 M23.93 0 31.22 13.24 M31.22 0 23.93 13.24 M34.43 14.19 43.84 14.19 M49.2 0 51.99 0 53.71 1.64 54.14 3.47 54.14 9.77 53.71 11.54 51.99 13.24 49.2 13.24 47.49 11.54 47.06 9.77 47.06 3.47 47.49 1.64 49.2 0 M59.62 0 59.62 10.28 61.76 13.24 64.17 13.24 66.32 10.28 66.32 0 M71.79 0 78.23 0 M75.01 0 75.01 13.24 M81.26 3.66 85.02 0 85.02 13.24 M81.26 13.24 88.12 13.24 M91.34 14.19 100.75 14.19 M103.97 0 110.4 0 M107.18 0 107.18 13.24 M113.44 0 120.72 13.24 M120.72 0 113.44 13.24 M123.94 14.19 133.35 14.19 M136.57 0 136.57 13.24 M148.75 1.13 147.83 0 143.55 0 142.05 1.77 142.05 4.16 143.33 5.67 147.46 7.82 148.75 9.33 148.75 11.35 147.46 13.24 143.55 13.24 142.05 11.73 M156.37 0 159.16 0 160.87 1.64 161.3 3.47 161.3 9.77 160.87 11.54 159.16 13.24 156.37 13.24 154.65 11.54 154.22 9.77 154.22 3.47 154.65 1.64 156.37 0" fill="none" stroke="#0F0F0F" stroke-width="1.15" stroke-linecap="round" stroke-linejoin="round"/>
<path transform="translate(177.5 276.2)" d="M0 0 2.58 0 4.62 1.97 5.7 3.87 5.91 5.22 5.91 7.68 5.7 9.03 4.62 10.93 2.58 12.9 0 12.9 0 0 M11.4 12.9 11.4 0 14.95 8.6 18.5 0 18.5 12.9 M23.99 0 31.3 12.9 M31.3 0 23.99 12.9 M34.52 13.82 43.96 13.82 M49.33 0 52.12 0 53.84 1.6 54.27 3.38 54.27 9.52 53.84 11.24 52.12 12.9 49.33 12.9 47.61 11.24 47.18 9.52 47.18 3.38 47.61 1.6 49.33 0 M59.77 0 59.77 10.01 61.91 12.9 64.33 12.9 66.48 10.01 66.48 0 M71.97 0 78.42 0 M75.2 0 75.2 12.9 M81.47 3.56 85.23 0 85.23 12.9 M81.47 12.9 88.35 12.9 M91.57 13.82 101 13.82 M110.3 0 104.23 0 104.23 5.04 108.85 5.04 110.94 7.19 110.94 10.01 108.63 12.9 105.14 12.9 104.23 11.67 M114.71 0 118.6 12.9 122.5 0 M124.65 13.82 134.08 13.82 M137.3 0 137.3 12.9 M149.51 1.11 148.6 0 144.3 0 142.8 1.72 142.8 4.05 144.09 5.53 148.22 7.62 149.51 9.09 149.51 11.06 148.22 12.9 144.3 12.9 142.8 11.43 M157.16 0 159.95 0 161.67 1.6 162.1 3.38 162.1 9.52 161.67 11.24 159.95 12.9 157.16 12.9 155.44 11.24 155.01 9.52 155.01 3.38 155.44 1.6 157.16 0" fill="none" stroke="#0F0F0F" stroke-width="1.15" stroke-linecap="round" stroke-linejoin="round"/>
<path transform="translate(437.1 251.2)" d="M0 0 2.62 0 4.69 1.97 5.78 3.87 6 5.22 6 7.68 5.78 9.03 4.69 10.93 2.62 12.9 0 12.9 0 0 M11.58 12.9 11.58 0 15.18 8.6 18.79 0 18.79 12.9 M24.36 0 31.79 12.9 M31.79 0 24.36 12.9 M35.06 13.82 44.64 13.82 M50.1 0 52.94 0 54.68 1.6 55.12 3.38 55.12 9.52 54.68 11.24 52.94 12.9 50.1 12.9 48.35 11.24 47.92 9.52 47.92 3.38 48.35 1.6 50.1 0 M60.7 0 60.7 10.01 62.88 12.9 65.34 12.9 67.52 10.01 67.52 0 M73.1 0 79.65 0 M76.37 0 76.37 12.9 M82.74 3.56 86.56 0 86.56 12.9 M82.74 12.9 89.73 12.9 M93 13.82 102.58 13.82 M112.57 1.54 111.31 0 108.31 0 105.86 3.07 105.86 9.83 108.04 12.9 110.77 12.9 112.68 11.06 112.68 7.99 110.22 7.99 M118.26 12.9 118.26 0 124.81 12.9 124.81 0 M130.38 0 133 0 135.08 1.97 136.17 3.87 136.39 5.22 136.39 7.68 136.17 9.03 135.08 10.93 133 12.9 130.38 12.9 130.38 0 M139.66 13.82 149.24 13.82 M152.52 0 152.52 12.9 M164.92 1.11 163.99 0 159.62 0 158.1 1.72 158.1 4.05 159.41 5.53 163.61 7.62 164.92 9.09 164.92 11.06 163.61 12.9 159.62 12.9 158.1 11.43 M172.68 0 175.52 0 177.26 1.6 177.7 3.38 177.7 9.52 177.26 11.24 175.52 12.9 172.68 12.9 170.93 11.24 170.5 9.52 170.5 3.38 170.93 1.6 172.68 0" fill="none" stroke="#0F0F0F" stroke-width="1.15" stroke-linecap="round" stroke-linejoin="round"/>
<path transform="translate(40.3 425.06)" d="M0 0 2.63 0 4.7 1.87 5.8 3.69 6.02 4.97 6.02 7.32 5.8 8.6 4.7 10.42 2.63 12.29 0 12.29 0 0 M11.61 12.29 11.61 0 15.22 8.19 18.83 0 18.83 12.29 M24.42 0 31.85 12.29 M31.85 0 24.42 12.29 M35.14 13.17 44.74 13.17 M50.21 0 53.05 0 54.8 1.52 55.24 3.22 55.24 9.07 54.8 10.71 53.05 12.29 50.21 12.29 48.46 10.71 48.02 9.07 48.02 3.22 48.46 1.52 50.21 0 M60.83 0 60.83 9.54 63.02 12.29 65.48 12.29 67.66 9.54 67.66 0 M73.25 0 79.82 0 M76.54 0 76.54 12.29 M82.92 3.39 86.75 0 86.75 12.29 M82.92 12.29 89.92 12.29 M93.2 13.17 102.8 13.17 M111.25 0 105.23 0 105.23 12.29 111.25 12.29 M105.23 5.85 109.61 5.85 M116.84 12.29 116.84 0 123.4 12.29 123.4 0" fill="none" stroke="#0F0F0F" stroke-width="1.15" stroke-linecap="round" stroke-linejoin="round"/>
<path transform="translate(574.3 326.2)" d="M0 0 2.57 0 4.6 1.89 5.67 3.72 5.88 5.02 5.88 7.38 5.67 8.68 4.6 10.51 2.57 12.4 0 12.4 0 0 M11.35 12.4 11.35 0 14.88 8.27 18.41 0 18.41 12.4 M23.87 0 31.14 12.4 M31.14 0 23.87 12.4 M34.35 13.29 43.74 13.29 M49.09 0 51.87 0 53.58 1.54 54 3.25 54 9.15 53.58 10.81 51.87 12.4 49.09 12.4 47.37 10.81 46.95 9.15 46.95 3.25 47.37 1.54 49.09 0 M59.47 0 59.47 9.62 61.61 12.4 64.02 12.4 66.15 9.62 66.15 0 M71.62 0 78.04 0 M74.83 0 74.83 12.4 M81.07 3.42 84.81 0 84.81 12.4 M81.07 12.4 87.91 12.4 M91.12 13.29 100.51 13.29 M109.76 0 103.71 0 103.71 4.84 108.31 4.84 110.4 6.91 110.4 9.62 108.1 12.4 104.62 12.4 103.71 11.22 M114.14 0 118.02 12.4 121.89 0 M124.03 13.29 133.42 13.29 M136.63 0 136.63 12.4 M148.78 1.06 147.87 0 143.59 0 142.09 1.65 142.09 3.9 143.38 5.31 147.49 7.32 148.78 8.74 148.78 10.63 147.49 12.4 143.59 12.4 142.09 10.98 M156.38 0 159.16 0 160.87 1.54 161.3 3.25 161.3 9.15 160.87 10.81 159.16 12.4 156.38 12.4 154.67 10.81 154.24 9.15 154.24 3.25 154.67 1.54 156.38 0" fill="none" stroke="#0F0F0F" stroke-width="1.15" stroke-linecap="round" stroke-linejoin="round"/>
<path transform="translate(574.3 450.2)" d="M0 0 2.61 0 4.67 1.89 5.75 3.72 5.97 5.02 5.97 7.38 5.75 8.68 4.67 10.51 2.61 12.4 0 12.4 0 0 M11.52 12.4 11.52 0 15.1 8.27 18.68 0 18.68 12.4 M24.23 0 31.61 12.4 M31.61 0 24.23 12.4 M34.87 13.29 44.4 13.29 M49.83 0 52.65 0 54.38 1.54 54.82 3.25 54.82 9.15 54.38 10.81 52.65 12.4 49.83 12.4 48.09 10.81 47.65 9.15 47.65 3.25 48.09 1.54 49.83 0 M60.37 0 60.37 9.62 62.54 12.4 64.98 12.4 67.15 9.62 67.15 0 M72.7 0 79.21 0 M75.96 0 75.96 12.4 M82.29 3.42 86.09 0 86.09 12.4 M82.29 12.4 89.24 12.4 M92.49 13.29 102.02 13.29 M105.28 0 107.88 0 109.94 1.89 111.03 3.72 111.25 5.02 111.25 7.38 111.03 8.68 109.94 10.51 107.88 12.4 105.28 12.4 105.28 0 M121.92 0 115.95 0 115.95 12.4 121.92 12.4 M115.95 5.9 120.29 5.9 M125.18 13.29 134.71 13.29 M137.96 12.4 137.96 0 142.14 0 143.66 1.06 144.42 2.83 144.2 4.9 143.01 6.38 141.76 6.91 137.96 6.91 M140.84 6.91 144.64 12.4 M155.31 0 149.34 0 149.34 12.4 155.31 12.4 M149.34 5.9 153.68 5.9 M158.57 13.29 168.1 13.29 M171.35 0 171.35 12.4 M183.69 1.06 182.76 0 178.42 0 176.9 1.65 176.9 3.9 178.21 5.31 182.38 7.32 183.69 8.74 183.69 10.63 182.38 12.4 178.42 12.4 176.9 10.98 M191.41 0 194.23 0 195.97 1.54 196.4 3.25 196.4 9.15 195.97 10.81 194.23 12.4 191.41 12.4 189.67 10.81 189.24 9.15 189.24 3.25 189.67 1.54 191.41 0" fill="none" stroke="#0F0F0F" stroke-width="1.15" stroke-linecap="round" stroke-linejoin="round"/>
<path transform="translate(189.2 574.3)" d="M0 0 2.58 0 4.63 1.87 5.71 3.69 5.92 4.98 5.92 7.32 5.71 8.61 4.63 10.43 2.58 12.3 0 12.3 0 0 M11.42 12.3 11.42 0 14.98 8.2 18.53 0 18.53 12.3 M24.03 0 31.36 12.3 M31.36 0 24.03 12.3 M34.59 13.18 44.04 13.18 M49.42 0 52.22 0 53.94 1.52 54.37 3.22 54.37 9.08 53.94 10.72 52.22 12.3 49.42 12.3 47.7 10.72 47.27 9.08 47.27 3.22 47.7 1.52 49.42 0 M59.88 0 59.88 9.55 62.03 12.3 64.45 12.3 66.6 9.55 66.6 0 M72.11 0 78.57 0 M75.34 0 75.34 12.3 M81.62 3.4 85.39 0 85.39 12.3 M81.62 12.3 88.51 12.3 M91.74 13.18 101.19 13.18 M110.5 0 104.42 0 104.42 4.8 109.05 4.8 111.15 6.85 111.15 9.55 108.83 12.3 105.34 12.3 104.42 11.13 M114.92 0 118.82 12.3 122.72 0 M124.88 13.18 134.33 13.18 M137.56 0 137.56 12.3 M149.79 1.05 148.88 0 144.57 0 143.06 1.64 143.06 3.87 144.35 5.27 148.5 7.26 149.79 8.67 149.79 10.54 148.5 12.3 144.57 12.3 143.06 10.89 M157.45 0 160.25 0 161.97 1.52 162.4 3.22 162.4 9.08 161.97 10.72 160.25 12.3 157.45 12.3 155.72 10.72 155.29 9.08 155.29 3.22 155.72 1.52 157.45 0" fill="none" stroke="#0F0F0F" stroke-width="1.15" stroke-linecap="round" stroke-linejoin="round"/>
<path transform="translate(437.1 574.3)" d="M0 0 2.62 0 4.69 1.84 5.78 3.63 6 4.9 6 7.2 5.78 8.47 4.69 10.26 2.62 12.1 0 12.1 0 0 M11.57 12.1 11.57 0 15.17 8.07 18.76 0 18.76 12.1 M24.34 0 31.75 12.1 M31.75 0 24.34 12.1 M35.02 12.96 44.59 12.96 M50.04 0 52.88 0 54.62 1.5 55.06 3.17 55.06 8.93 54.62 10.54 52.88 12.1 50.04 12.1 48.3 10.54 47.86 8.93 47.86 3.17 48.3 1.5 50.04 0 M60.63 0 60.63 9.39 62.81 12.1 65.26 12.1 67.44 9.39 67.44 0 M73.02 0 79.56 0 M76.29 0 76.29 12.1 M82.65 3.34 86.46 0 86.46 12.1 M82.65 12.1 89.63 12.1 M92.9 12.96 102.47 12.96 M112.44 1.44 111.19 0 108.19 0 105.74 2.88 105.74 9.22 107.92 12.1 110.64 12.1 112.55 10.37 112.55 7.49 110.1 7.49 M118.12 12.1 118.12 0 124.66 12.1 124.66 0 M130.24 0 132.85 0 134.93 1.84 136.02 3.63 136.23 4.9 136.23 7.2 136.02 8.47 134.93 10.26 132.85 12.1 130.24 12.1 130.24 0 M139.5 12.96 149.07 12.96 M152.35 0 152.35 12.1 M164.73 1.04 163.81 0 159.44 0 157.92 1.61 157.92 3.8 159.23 5.19 163.42 7.14 164.73 8.53 164.73 10.37 163.42 12.1 159.44 12.1 157.92 10.72 M172.48 0 175.32 0 177.06 1.5 177.5 3.17 177.5 8.93 177.06 10.54 175.32 12.1 172.48 12.1 170.74 10.54 170.3 8.93 170.3 3.17 170.74 1.5 172.48 0" fill="none" stroke="#0F0F0F" stroke-width="1.15" stroke-linecap="round" stroke-linejoin="round"/>
<path transform="translate(385.5 12)" d="M0 0 0 9.78 2.25 12.6 4.79 12.6 7.04 9.78 7.04 0 M12.79 3.48 16.73 0 16.73 12.6 M12.79 12.6 20 12.6" fill="none" stroke="#006464" stroke-width="1.15" stroke-linecap="round" stroke-linejoin="round"/>
<path transform="translate(350.4 44.4)" d="M5.58 0 1.73 0 0 2.79 0 10.63 1.3 12.2 5.42 12.2 6.5 10.63 6.5 6.27 5.25 4.76 0 4.76 M12.04 12.2 12.04 0 18.54 12.2 18.54 0 M24.08 3.37 27.87 0 27.87 12.2 M24.08 12.2 31.01 12.2 M36.55 0 43.32 0 39.26 5.11 41.64 5.11 43.32 6.97 43.32 10.22 42.13 12.2 37.36 12.2 36.55 11.33 M48.86 0 55.9 0 51.3 12.2" fill="none" stroke="#006464" stroke-width="1.15" stroke-linecap="round" stroke-linejoin="round"/>
<path transform="translate(164.4 51.3)" d="M0 13.3 0 0 4.09 0 5.58 1.14 6.33 3.04 6.11 5.26 4.94 6.84 3.72 7.41 0 7.41 M2.82 7.41 6.54 13.3 M9.73 14.25 19.06 14.25 M22.25 0 22.25 13.3 27.83 13.3 M37.34 0 31.5 0 31.5 13.3 37.34 13.3 M31.5 6.33 35.75 6.33 M42.78 0 45.33 0 47.35 2.03 48.41 3.99 48.63 5.38 48.63 7.92 48.41 9.31 47.35 11.27 45.33 13.3 42.78 13.3 42.78 0 M51.82 14.25 61.15 14.25 M64.34 0 70.72 0 M67.53 0 67.53 13.3 M73.73 0 80.96 13.3 M80.96 0 73.73 13.3 M86.4 3.67 90.12 0 90.12 13.3 M86.4 13.3 93.2 13.3" fill="none" stroke="#006464" stroke-width="1.15" stroke-linecap="round" stroke-linejoin="round"/>
<path transform="translate(188.6 76.4)" d="M0 0 6.93 0 2.77 5.11 5.21 5.11 6.93 6.97 6.93 10.22 5.71 12.2 0.83 12.2 0 11.33 M13.55 12.2 17.48 12.2 19.26 9.41 19.26 1.57 17.93 0 13.71 0 12.6 1.57 12.6 5.93 13.88 7.44 19.26 7.44 M26.87 0 29.37 0 30.86 1.34 31.31 2.9 31.31 9.3 30.86 10.86 29.37 12.2 26.87 12.2 25.37 10.86 24.93 9.3 24.93 2.9 25.37 1.34 26.87 0 M36.98 12.2 36.98 0 41.25 0 42.8 1.05 43.58 2.79 43.36 4.82 42.14 6.27 40.86 6.8 36.98 6.8 M39.92 6.8 43.8 12.2" fill="none" stroke="#006464" stroke-width="1.15" stroke-linecap="round" stroke-linejoin="round"/>
<path transform="translate(586.2 76.3)" d="M0 12.3 0 0 4.09 0 5.58 1.05 6.33 2.81 6.11 4.86 4.95 6.33 3.72 6.85 0 6.85 M2.82 6.85 6.54 12.3 M9.73 13.18 19.07 13.18 M22.26 12.3 22.26 0 26.24 0 27.84 0.88 28.64 2.64 28.64 4.1 27.84 5.86 26.24 6.74 22.26 6.74 M34.07 0 34.07 9.55 36.2 12.3 38.59 12.3 40.72 9.55 40.72 0 M43.91 13.18 53.24 13.18 M56.43 0 62.81 0 M59.62 0 59.62 12.3 M65.83 0 73.06 12.3 M73.06 0 65.83 12.3 M78.49 3.4 82.22 0 82.22 12.3 M78.49 12.3 85.3 12.3" fill="none" stroke="#006464" stroke-width="1.15" stroke-linecap="round" stroke-linejoin="round"/>
<path transform="translate(585.9 101.4)" d="M0 3.4 3.77 0 3.77 12.3 M0 12.3 6.89 12.3 M12.39 0 12.39 12.3 M17.5 3.92 12.39 9.08 M14.27 7.2 17.5 12.3" fill="none" stroke="#006464" stroke-width="1.15" stroke-linecap="round" stroke-linejoin="round"/>
<path transform="translate(243.7 212.9)" d="M7.32 1.44 5.95 0 2.68 0 0 2.88 0 9.22 2.38 12.1 5.36 12.1 7.44 10.37 7.44 7.49 4.76 7.49 M13.53 12.1 13.53 0 20.67 12.1 20.67 0 M26.75 0 29.61 0 31.87 1.84 33.06 3.63 33.3 4.9 33.3 7.2 33.06 8.47 31.87 10.26 29.61 12.1 26.75 12.1 26.75 0" fill="none" stroke="#006464" stroke-width="1.15" stroke-linecap="round" stroke-linejoin="round"/>
<path transform="translate(370.8 292.3)" d="M6.2 1.48 6.2 0 2.58 0 0 2.95 0 9.45 2.58 12.4 6.2 12.4 6.2 10.92 M9.29 13.29 18.36 13.29 M21.46 0 21.46 9.62 23.52 12.4 25.84 12.4 27.91 9.62 27.91 0 M31.01 13.29 40.07 13.29 M43.17 0 49.37 0 M46.27 0 46.27 12.4 M52.29 0 59.31 12.4 M59.31 0 52.29 12.4 M64.59 3.42 68.21 0 68.21 12.4 M64.59 12.4 71.2 12.4" fill="none" stroke="#006464" stroke-width="1.15" stroke-linecap="round" stroke-linejoin="round"/>
<path transform="translate(462.7 292.4)" d="M0 3.34 3.78 0 3.78 12.1 M0 12.1 6.92 12.1 M14.34 0 16.77 0 18.23 1.33 18.66 2.88 18.66 9.22 18.23 10.77 16.77 12.1 14.34 12.1 12.88 10.77 12.44 9.22 12.44 2.88 12.88 1.33 14.34 0 M26.08 0 28.51 0 29.97 1.33 30.4 2.88 30.4 9.22 29.97 10.77 28.51 12.1 26.08 12.1 24.62 10.77 24.18 9.22 24.18 2.88 24.62 1.33 26.08 0 M35.92 3.86 35.92 12.1 M35.92 5.01 37.01 3.86 39.87 3.86 41.06 5.19 41.06 12.1 M52.8 0 46.58 0 46.58 12.1 M46.58 6.05 50.91 6.05" fill="none" stroke="#006464" stroke-width="1.15" stroke-linecap="round" stroke-linejoin="round"/>
<path transform="translate(337.3 356.3)" d="M5.72 0 1.78 0 0 2.9 0 11.07 1.33 12.7 5.55 12.7 6.66 11.07 6.66 6.53 5.39 4.96 0 4.96 M12.34 12.7 12.34 0 19 12.7 19 0 M24.68 3.51 28.57 0 28.57 12.7 M24.68 12.7 31.79 12.7 M37.46 0 44.4 0 40.24 5.32 42.68 5.32 44.4 7.26 44.4 10.64 43.18 12.7 38.3 12.7 37.46 11.79 M50.08 0 57.3 0 52.58 12.7" fill="none" stroke="#006464" stroke-width="1.15" stroke-linecap="round" stroke-linejoin="round"/>
<path transform="translate(338.4 381.3)" d="M0 0 0 10.01 2.28 12.9 4.85 12.9 7.13 10.01 7.13 0 M12.97 0 20.1 0 15.82 5.41 18.33 5.41 20.1 7.37 20.1 10.81 18.84 12.9 13.82 12.9 12.97 11.98" fill="none" stroke="#006464" stroke-width="1.15" stroke-linecap="round" stroke-linejoin="round"/>
<path transform="translate(598.2 374.8)" d="M0 12.1 0 0 4.21 0 5.75 1.04 6.51 2.77 6.29 4.78 5.09 6.22 3.83 6.74 0 6.74 M2.9 6.74 6.73 12.1 M10.01 12.96 19.62 12.96 M22.9 12.1 22.9 0 27.01 0 28.65 0.86 29.47 2.59 29.47 4.03 28.65 5.76 27.01 6.63 22.9 6.63 M35.06 0 35.06 9.39 37.25 12.1 39.71 12.1 41.9 9.39 41.9 0 M45.19 12.96 54.79 12.96 M63.24 0 57.22 0 57.22 12.1 63.24 12.1 M57.22 5.76 61.6 5.76 M68.84 12.1 68.84 0 75.4 12.1 75.4 0 M81 3.34 84.83 0 84.83 12.1 M81 12.1 88 12.1" fill="none" stroke="#006464" stroke-width="1.15" stroke-linecap="round" stroke-linejoin="round"/>
<path transform="translate(597.9 399.6)" d="M0 3.34 3.81 0 3.81 12.1 M0 12.1 6.97 12.1 M12.53 0 12.53 12.1 M17.7 3.86 12.53 8.93 M14.43 7.09 17.7 12.1" fill="none" stroke="#006464" stroke-width="1.15" stroke-linecap="round" stroke-linejoin="round"/>
<path transform="translate(182.4 409)" d="M0 12.7 0 0 4.21 0 5.74 1.09 6.51 2.9 6.29 5.02 5.09 6.53 3.83 7.08 0 7.08 M2.9 7.08 6.73 12.7 M10.01 13.61 19.61 13.61 M22.89 0 22.89 12.7 28.63 12.7 M38.42 0 32.4 0 32.4 12.7 38.42 12.7 M32.4 6.05 36.78 6.05 M44.01 0 46.63 0 48.71 1.94 49.81 3.81 50.02 5.14 50.02 7.56 49.81 8.89 48.71 10.76 46.63 12.7 44.01 12.7 44.01 0 M53.31 13.61 62.91 13.61 M71.35 0 65.34 0 65.34 12.7 71.35 12.7 M65.34 6.05 69.71 6.05 M76.95 12.7 76.95 0 83.51 12.7 83.51 0 M89.1 3.51 92.93 0 92.93 12.7 M89.1 12.7 96.1 12.7" fill="none" stroke="#006464" stroke-width="1.15" stroke-linecap="round" stroke-linejoin="round"/>
<path transform="translate(198.5 466)" d="M0 0 6.85 0 2.74 5.2 5.15 5.2 6.85 7.09 6.85 10.39 5.65 12.4 0.82 12.4 0 11.51 M13.39 12.4 17.28 12.4 19.04 9.57 19.04 1.59 17.72 0 13.56 0 12.46 1.59 12.46 6.02 13.72 7.56 19.04 7.56 M26.56 0 29.03 0 30.51 1.36 30.95 2.95 30.95 9.45 30.51 11.04 29.03 12.4 26.56 12.4 25.08 11.04 24.64 9.45 24.64 2.95 25.08 1.36 26.56 0 M36.56 12.4 36.56 0 40.78 0 42.31 1.06 43.08 2.83 42.86 4.9 41.66 6.38 40.39 6.91 36.56 6.91 M39.46 6.91 43.3 12.4" fill="none" stroke="#006464" stroke-width="1.15" stroke-linecap="round" stroke-linejoin="round"/>
<path transform="translate(256.1 535.3)" d="M7.32 1.44 5.95 0 2.68 0 0 2.88 0 9.22 2.38 12.1 5.36 12.1 7.44 10.37 7.44 7.49 4.76 7.49 M13.53 12.1 13.53 0 20.67 12.1 20.67 0 M26.75 0 29.61 0 31.87 1.84 33.06 3.63 33.3 4.9 33.3 7.2 33.06 8.47 31.87 10.26 29.61 12.1 26.75 12.1 26.75 0" fill="none" stroke="#006464" stroke-width="1.15" stroke-linecap="round" stroke-linejoin="round"/>
<path transform="translate(381.4 614.7)" d="M6.5 1.48 6.5 0 2.71 0 0 2.95 0 9.45 2.71 12.4 6.5 12.4 6.5 10.92 M9.75 13.29 19.26 13.29 M22.51 0 22.51 9.62 24.67 12.4 27.11 12.4 29.28 9.62 29.28 0 M32.52 13.29 42.03 13.29 M50.4 0 44.44 0 44.44 12.4 50.4 12.4 M44.44 5.9 48.77 5.9 M55.93 12.4 55.93 0 62.43 12.4 62.43 0 M67.97 3.42 71.76 0 71.76 12.4 M67.97 12.4 74.9 12.4" fill="none" stroke="#006464" stroke-width="1.15" stroke-linecap="round" stroke-linejoin="round"/>
<path transform="translate(473.9 614.7)" d="M0 3.4 3.85 0 3.85 12.3 M0 12.3 7.04 12.3 M14.58 0 17.05 0 18.54 1.35 18.98 2.93 18.98 9.37 18.54 10.95 17.05 12.3 14.58 12.3 13.1 10.95 12.66 9.37 12.66 2.93 13.1 1.35 14.58 0 M26.52 0 28.99 0 30.48 1.35 30.92 2.93 30.92 9.37 30.48 10.95 28.99 12.3 26.52 12.3 25.04 10.95 24.6 9.37 24.6 2.93 25.04 1.35 26.52 0 M36.54 3.92 36.54 12.3 M36.54 5.1 37.64 3.92 40.55 3.92 41.76 5.27 41.76 12.3 M53.7 0 47.38 0 47.38 12.3 M47.38 6.15 51.78 6.15" fill="none" stroke="#006464" stroke-width="1.15" stroke-linecap="round" stroke-linejoin="round"/>
</svg>
</body></html>
